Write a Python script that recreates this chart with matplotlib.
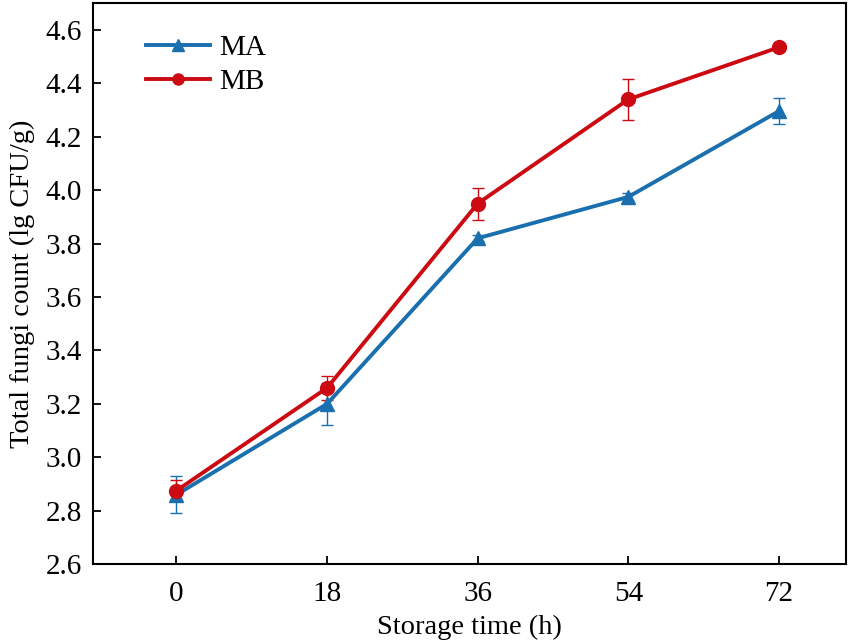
import matplotlib.pyplot as plt

hours = [0, 18, 36, 54, 72]
ma_values = [2.86, 3.20, 3.82, 3.975, 4.296]
ma_errors = [0.07, 0.08, 0.012, 0.015, 0.048]
mb_values = [2.875, 3.26, 3.95, 4.34, 4.535]
mb_errors = [0.04, 0.045, 0.06, 0.077, 0.008]

blue = "#1a6faf"
red = "#cc0a12"

plt.rcParams["font.family"] = ["Liberation Serif", "DejaVu Serif"]
plt.rcParams["font.size"] = 20

fig = plt.figure(figsize=(8.51, 6.44), dpi=100)
ax = fig.add_axes([0.109, 0.124, 0.885, 0.871])

ax.errorbar(hours, ma_values, yerr=ma_errors, color=blue, marker="^",
            markersize=10, linewidth=2.8, elinewidth=1, capsize=4,
            capthick=1, label="MA")
ax.errorbar(hours, mb_values, yerr=mb_errors, color=red, marker="o",
            markersize=10, linewidth=2.8, elinewidth=1, capsize=4,
            capthick=1, label="MB")

ax.set_xlim(-10, 80)
ax.set_ylim(2.6, 4.7)
ax.set_xticks(hours)
ax.set_yticks([2.6, 2.8, 3.0, 3.2, 3.4, 3.6, 3.8, 4.0, 4.2, 4.4, 4.6])
ax.set_yticklabels([f"{v:.1f}" for v in ax.get_yticks()])
ax.tick_params(direction="in", length=6, width=1.3, labelsize=21)
ax.tick_params(axis="y", pad=8)
ax.tick_params(axis="x", pad=12)
for spine in ax.spines.values():
    spine.set_linewidth(1.5)

ax.set_xlabel("Storage time (h)", fontsize=20.5, labelpad=6)
ax.set_ylabel("Total fungi count (lg CFU/g)", fontsize=20.5, labelpad=7)

handles, labels = ax.get_legend_handles_labels()
handles = [h[0] for h in handles]
ax.legend(handles, labels, loc="upper left", frameon=False, fontsize=21,
          bbox_to_anchor=(0.036, 0.99), handlelength=2.2, markerscale=0.8,
          labelspacing=0.25, handletextpad=0.3)

fig.savefig("out.png", dpi=100)
